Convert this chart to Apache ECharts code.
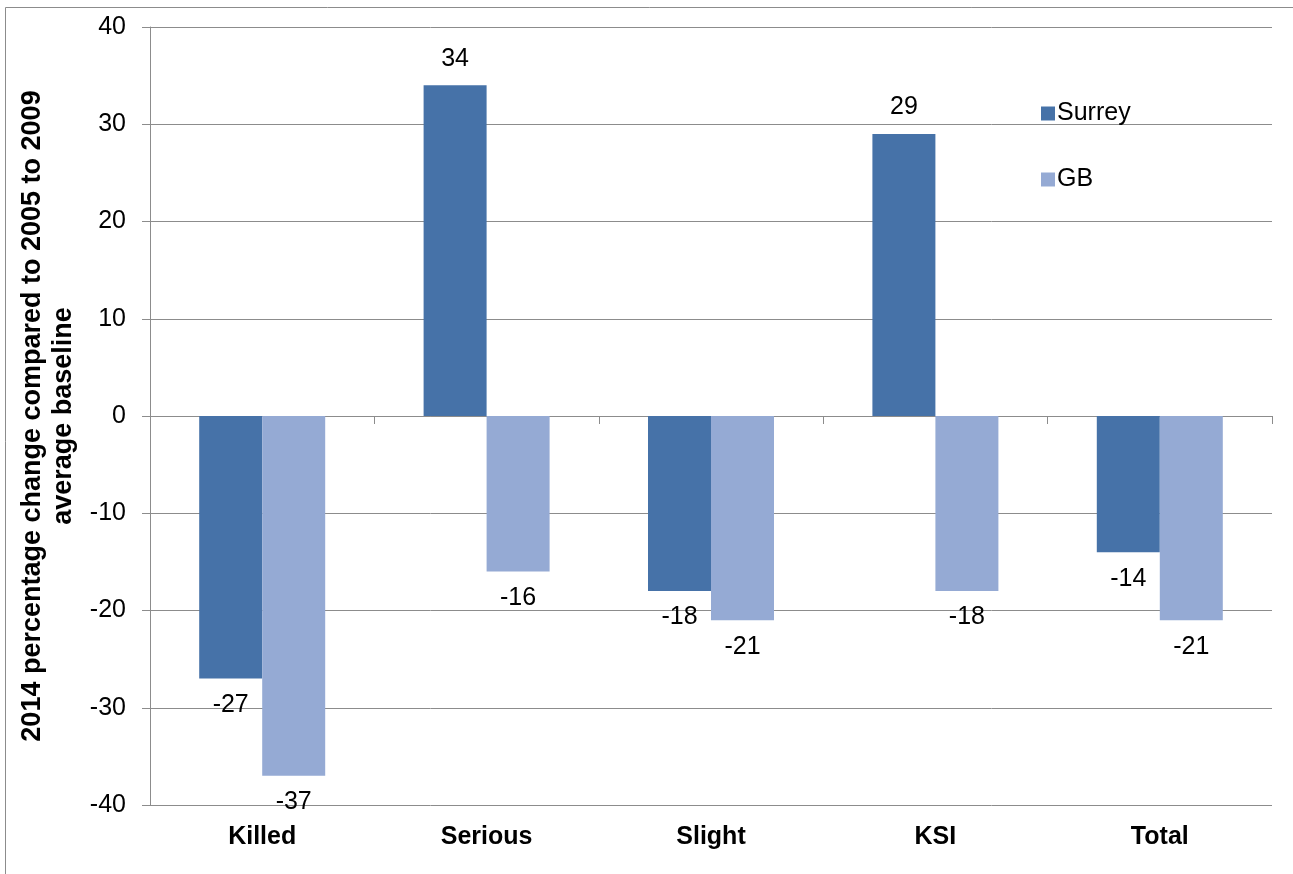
<!DOCTYPE html>
<html>
<head>
<meta charset="utf-8">
<script src="https://cdn.jsdelivr.net/npm/echarts@6/dist/echarts.min.js"></script>
<style>
  html, body { margin: 0; padding: 0; background: #fff; }
  #chart { width: 1293px; height: 874px; }
</style>
</head>
<body>
<div id="chart"></div>
<script>
// Casualty categories and 2014 % change against the 2005-2009 baseline
const categories = ['Killed', 'Serious', 'Slight', 'KSI', 'Total'];
const surreyValues = [-27, 34, -18, 29, -14];
const gbValues = [-37, -16, -21, -18, -21];
const yTicks = { min: -40, max: 40, interval: 10 };
const yAxisTitle = '2014 percentage change compared to 2005 to 2009\naverage baseline';

const FONT = 'Liberation Sans, Arial, sans-serif';
const FONT_SIZE = 25;
const GRID_COLOR = '#8c8c8c';

// Labels sit above positive bars and below negative ones
function withLabels(values) {
  return values.map(v => ({
    value: v,
    label: { position: v >= 0 ? 'top' : 'bottom' }
  }));
}

const chart = echarts.init(document.getElementById('chart'), null, { renderer: 'canvas' });

const valueLabel = {
  show: true, distance: 14, fontFamily: FONT, fontSize: FONT_SIZE, color: '#000'
};

chart.setOption({
  animation: false,
  backgroundColor: '#fff',
  textStyle: { fontFamily: FONT },
  graphic: [{
    type: 'rect',
    shape: { x: 5.5, y: 7.5, width: 1400, height: 1000 },
    style: { fill: 'none', stroke: '#8c8c8c', lineWidth: 1 },
    z: -10
  }],
  grid: { left: 150, right: 21, top: 27, bottom: 69, containLabel: false },
  legend: {
    orient: 'vertical',
    left: 1036,
    top: 96,
    itemWidth: 14,
    itemHeight: 14,
    itemGap: 41,
    icon: 'rect',
    textStyle: {
      fontFamily: FONT, fontSize: FONT_SIZE, lineHeight: 25,
      color: '#000', padding: [0, 0, 0, -3]
    },
    data: ['Surrey', 'GB']
  },
  xAxis: [{
    type: 'category',
    data: categories,
    position: 'bottom',
    axisLine: { onZero: true, lineStyle: { color: GRID_COLOR, width: 1 } },
    axisTick: { show: true, length: 8, lineStyle: { color: GRID_COLOR } },
    axisLabel: { show: false },
    splitLine: { show: false }
  }, {
    type: 'category',
    data: categories,
    position: 'bottom',
    axisLine: { show: false, onZero: false },
    axisTick: { show: false },
    axisLabel: {
      show: true, margin: 20, fontFamily: FONT, fontSize: FONT_SIZE,
      fontWeight: 'bold', color: '#000'
    }
  }],
  yAxis: {
    type: 'value',
    min: yTicks.min,
    max: yTicks.max,
    interval: yTicks.interval,
    name: yAxisTitle,
    nameLocation: 'middle',
    nameRotate: 90,
    nameGap: 55,
    nameTextStyle: {
      fontFamily: FONT, fontSize: 27, fontWeight: 'bold', color: '#000',
      lineHeight: 31, align: 'center'
    },
    axisLine: { show: true, lineStyle: { color: GRID_COLOR, width: 1 } },
    axisTick: { show: true, length: 8, lineStyle: { color: GRID_COLOR } },
    axisLabel: { margin: 24, fontFamily: FONT, fontSize: FONT_SIZE, color: '#000' },
    splitLine: { show: true, lineStyle: { color: GRID_COLOR, width: 1 } }
  },
  series: [{
    name: 'Surrey',
    type: 'bar',
    xAxisIndex: 0,
    data: withLabels(surreyValues),
    barWidth: 63,
    barGap: '0%',
    itemStyle: { color: '#4672A8' },
    label: valueLabel
  }, {
    name: 'GB',
    type: 'bar',
    xAxisIndex: 0,
    data: withLabels(gbValues),
    barWidth: 63,
    barGap: '0%',
    itemStyle: { color: '#95AAD4' },
    label: valueLabel
  }]
});
</script>
</body>
</html>
